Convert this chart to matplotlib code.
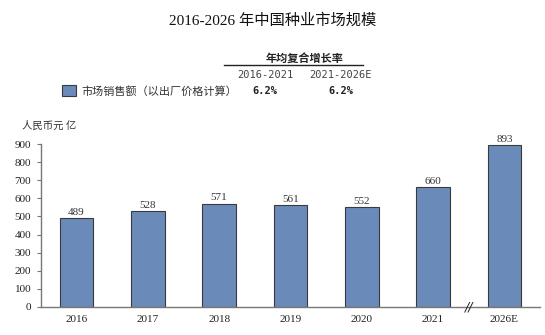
import matplotlib.pyplot as plt
from matplotlib.patches import Rectangle

years = ["2016", "2017", "2018", "2019", "2020", "2021", "2026E"]
sales = [489, 528, 571, 561, 552, 660, 893]
yticks = [0, 100, 200, 300, 400, 500, 600, 700, 800, 900]
cagr_periods = ["2016-2021", "2021-2026E"]
cagr_values = ["6.2%", "6.2%"]

serif = ["Liberation Serif", "Noto Sans CJK SC"]
cjk = ["Noto Sans CJK SC", "DejaVu Sans"]
bar_color = "#6a8bb9"

fig = plt.figure(figsize=(5.45, 3.35), dpi=100)
ax = fig.add_axes([0.075, 0.084, 0.916, 0.486])

x = range(len(years))
bars = ax.bar(x, sales, width=0.47, color=bar_color, edgecolor="#3a3a3a", linewidth=0.8)
for xi, v in zip(x, sales):
    ax.text(xi, v + 8, str(v), ha="center", va="bottom", fontsize=8, family=serif, color="#333333")

ax.set_xlim(-0.5, 6.5)
ax.set_ylim(0, 900)
ax.set_yticks(yticks)
ax.set_xticks(list(x))
ax.set_xticklabels(years)
for lab in ax.get_xticklabels() + ax.get_yticklabels():
    lab.set_family(serif)
    lab.set_fontsize(8)
    lab.set_color("#222222")
ax.tick_params(axis="x", length=0, pad=6)
ax.tick_params(axis="y", length=3, width=0.8, color="#777777", pad=4)
for s in ["top", "right"]:
    ax.spines[s].set_visible(False)
for s in ["left", "bottom"]:
    ax.spines[s].set_color("#777777")
    ax.spines[s].set_linewidth(1)

# break mark between 2021 and 2026E
ax.text(5.5, 0, "//", ha="center", va="center", fontsize=9, style="italic", color="#222222",
        family="DejaVu Sans", transform=ax.get_xaxis_transform())

# unit label
fig.text(0.04, 1 - 126 / 335, "人民币元 亿", fontsize=7.5, style="italic", family=cjk,
         ha="left", va="center", color="#333333")

# title
fig.text(0.5, 1 - 20 / 335, "2016-2026 年中国种业市场规模", fontsize=11, family=serif,
         ha="center", va="center", color="#111111")

# CAGR table
fig.text(305 / 545, 1 - 58 / 335, "年均复合增长率", fontsize=8, family=cjk, fontweight="bold",
         ha="center", va="center", color="#222222")
fig.add_artist(plt.Line2D([224 / 545, 363 / 545], [1 - 65 / 335, 1 - 65 / 335],
                          color="#222222", linewidth=1))
for cx, p, v in zip([265, 341], cagr_periods, cagr_values):
    fig.text(cx / 545, 1 - 75 / 335, p, fontsize=7.5, family="DejaVu Sans Mono",
             ha="center", va="center", color="#444444")
    fig.text(cx / 545, 1 - 91 / 335, v, fontsize=7.5, family="DejaVu Sans Mono", fontweight="bold",
             ha="center", va="center", color="#222222")

# legend
fig.add_artist(Rectangle((62 / 545, 1 - 96 / 335), 14 / 545, 11 / 335, transform=fig.transFigure,
                         facecolor=bar_color, edgecolor="#3a3a3a", linewidth=0.8))
fig.text(81 / 545, 1 - 91 / 335, "市场销售额（以出厂价格计算）", fontsize=8, family=cjk,
         ha="left", va="center", color="#333333")

fig.savefig("out.png", dpi=100)
